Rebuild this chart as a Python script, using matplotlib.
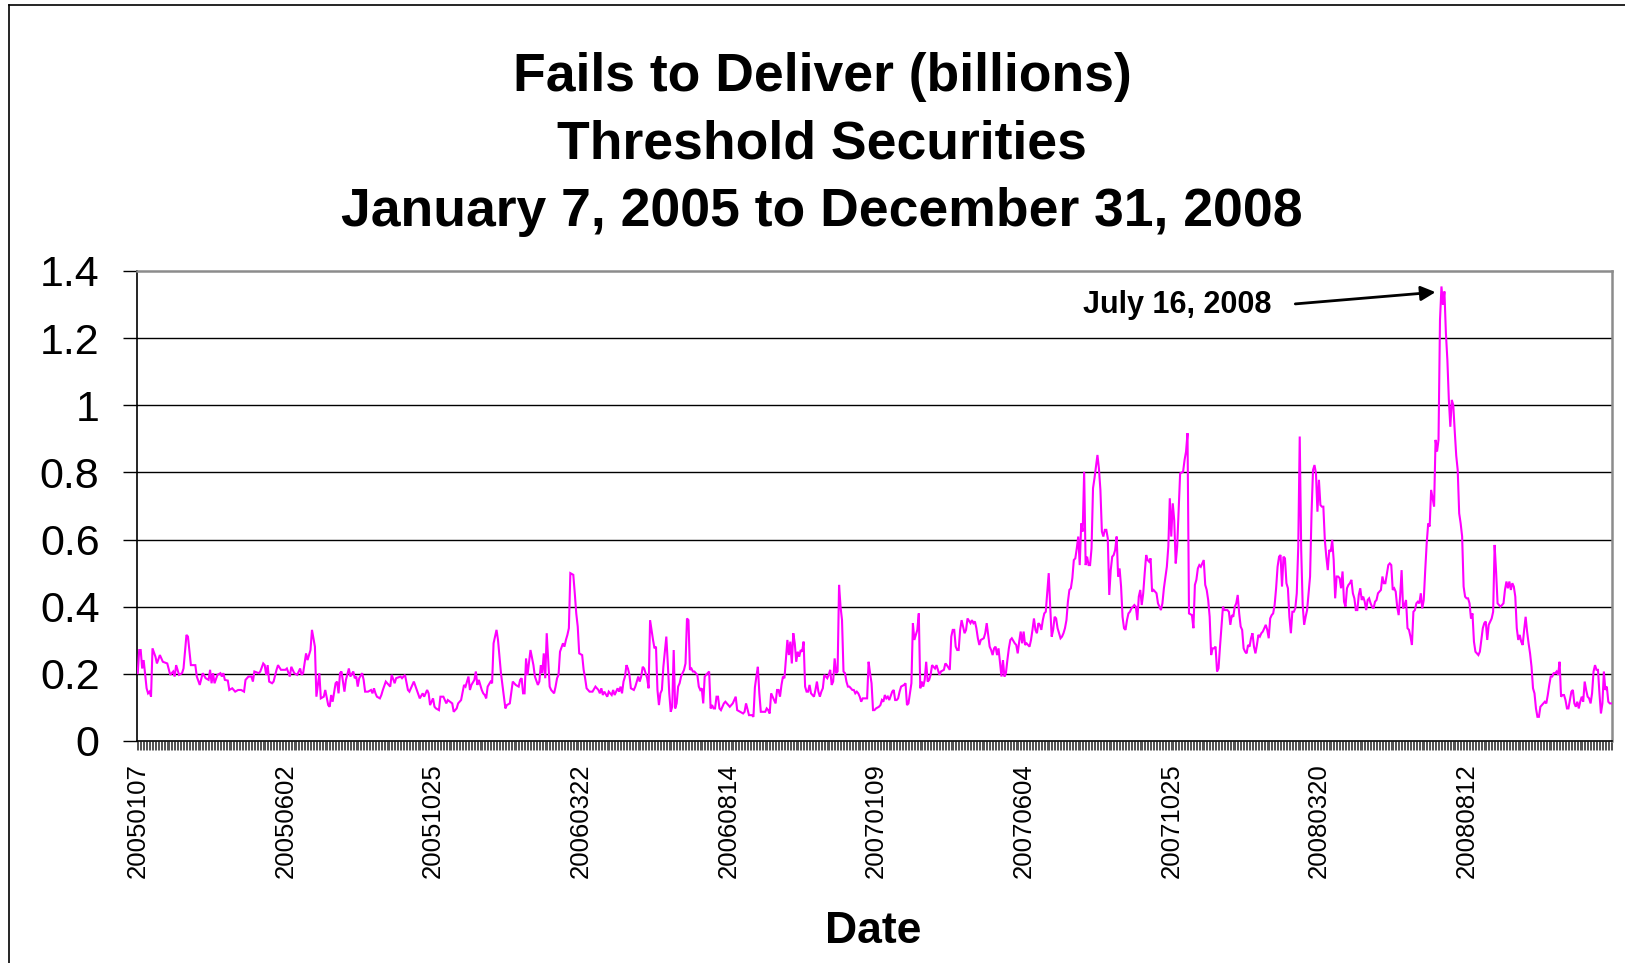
import matplotlib
matplotlib.use("Agg")
import matplotlib.pyplot as plt
from matplotlib.lines import Line2D
import numpy as np

plt.rcParams['font.family'] = ['Liberation Sans', 'DejaVu Sans']

# ---------------- data ----------------
title_lines = ["Fails to Deliver (billions)",
               "Threshold Securities",
               "January 7, 2005 to December 31, 2008"]
x_label = "Date"
peak_label = "July 16, 2008"

n_days = 999  # trading days, Jan 7 2005 .. Dec 31 2008
tick_days = [0, 100, 200, 300, 400, 500, 600, 700, 800, 900]
tick_labels = ["20050107", "20050602", "20051025", "20060322", "20060814",
               "20070109", "20070604", "20071025", "20080320", "20080812"]
y_ticks = [0, 0.2, 0.4, 0.6, 0.8, 1.0, 1.2, 1.4]
y_ticklabels = ["0", "0.2", "0.4", "0.6", "0.8", "1", "1.2", "1.4"]

# trading-day number and fails to deliver (billions)
day = [0, 1, 2, 3, 4, 6, 7, 8, 9, 10, 12, 13, 15, 17, 20, 22, 24, 25, 26, 28, 30, 31, 33, 34, 36, 39, 40, 42, 44, 46, 48, 49, 50, 51, 52, 54, 56, 57, 58, 59, 61, 62, 64, 66, 68, 70, 72, 73, 75, 77, 78, 79, 82, 83, 85, 86, 87, 88, 89, 91, 92, 94, 95, 97, 100, 101, 103, 104, 106, 108, 110, 111, 112, 114, 115, 117, 118, 120, 121, 123, 124, 126, 127, 129, 130, 131, 132, 134, 135, 136, 137, 138, 140, 141, 143, 144, 146, 147, 148, 149, 150, 152, 153, 154, 156, 158, 159, 160, 161, 162, 164,
       165, 166, 168, 170, 171, 172, 174, 175, 178, 179, 181, 183, 184, 187, 189, 191, 193, 194, 196, 197, 198, 200, 201, 202, 204, 205, 207, 209, 210, 213, 214, 216, 217, 219, 221, 222, 224, 225, 226, 228, 229, 230, 231, 233, 234, 235, 236, 237, 239, 240, 241, 243, 244, 245, 246, 248, 249, 250, 252, 254, 256, 258, 259, 260, 261, 262, 263, 264, 266, 268, 269, 271, 272, 273, 274, 275, 276, 277, 278, 279, 280, 282, 283, 284, 285, 286, 288, 289, 290, 291, 292, 293, 295, 296, 297, 298, 299, 301, 302, 303, 304, 306, 308, 310, 311, 312, 313, 314, 315, 316, 318, 319, 320, 321, 322, 323, 325, 326, 327, 328, 329, 330, 331, 332, 333,
       334, 336, 337, 338, 339, 340, 341, 342, 343, 345, 346, 347, 349, 350, 351, 352, 353, 354, 355, 356, 358, 359, 360, 361, 362, 363, 364, 365, 366, 367, 368, 370, 371, 372, 373, 374, 375, 376, 377, 379, 380, 381, 382, 383, 384, 386, 387, 388, 389, 390, 391, 392, 393, 394, 395, 397, 398, 399, 401, 403, 405, 406, 408, 410, 411, 412, 414, 416, 417, 418, 419, 420, 421, 422, 425, 426, 427, 428, 429, 430, 432, 433, 434, 435, 436, 437, 438, 440, 441, 442, 443, 444, 445, 446, 447, 448, 449, 450, 451, 452, 453, 454, 455, 456, 458, 459, 460, 461, 462, 463, 464, 465, 467, 468, 469, 470, 471, 472, 473, 474, 475, 476, 477, 478, 479, 480, 481, 482, 484, 485, 486, 487, 488, 489, 490, 491, 493, 494, 495, 496, 497, 498, 499, 500, 502, 503,
       504, 505, 506, 507, 508, 509, 511, 512, 513, 514, 515, 516, 517, 519, 520, 521, 522, 523, 524, 525, 526, 528, 529, 530, 531, 532, 533, 534, 535, 536, 537, 538, 540, 541, 542, 543, 544, 546, 547, 548, 550, 551, 552, 553, 554, 555, 556, 557, 558, 559, 560, 561, 562, 564, 565, 566, 567, 568, 569, 570, 571, 573, 574, 575, 576, 577, 578, 579, 580, 581, 582, 583, 585, 586, 587, 588, 589, 590, 591, 592, 594, 595, 596, 597, 598, 599, 600, 601, 602, 604, 605, 606, 607, 608, 609, 610, 611, 612, 613, 614, 615, 617, 618, 619, 620, 621, 622, 623, 625, 626, 627, 628, 629, 630, 631, 632, 633, 634, 635, 636, 637, 638, 639, 640, 641, 642, 643, 644, 645, 646, 647, 648, 649, 650, 651, 652, 653, 654, 655, 656, 657, 658, 659, 660, 661, 662, 663, 664, 665, 666, 667, 668, 669, 670, 671, 672,
       673, 675, 676, 677, 678, 679, 680, 681, 682, 683, 684, 685, 686, 687, 688, 689, 690, 691, 693, 694, 695, 697, 698, 699, 700, 701, 702, 703, 704, 705, 706, 708, 709, 710, 711, 712, 714, 715, 716, 717, 718, 719, 720, 722, 723, 724, 725, 726, 727, 728, 729, 730, 731, 732, 733, 734, 735, 736, 738, 739, 740, 741, 742, 743, 744, 745, 746, 747, 748, 749, 750, 751, 752, 753, 754, 755, 756, 757, 758, 759, 760, 761, 762, 764, 765, 766, 767, 768, 769, 770, 771, 772, 773, 774, 775, 776, 777, 778, 779, 780, 781, 782, 783, 784, 785, 786, 787, 788, 789, 790, 791, 792, 793, 794, 795, 796, 797, 798, 799, 800, 801, 802, 803, 804, 805, 806, 807, 808, 809, 810, 811, 812, 813, 814, 815, 816, 817, 818, 819, 820, 821, 822, 823, 824, 825, 826, 827, 828, 829, 830, 831, 832, 833, 834, 835, 836, 837, 838, 839, 840, 841,
       842, 843, 844, 845, 847, 848, 849, 850, 851, 852, 853, 854, 855, 856, 857, 858, 859, 860, 861, 862, 863, 864, 865, 866, 867, 868, 869, 870, 871, 872, 873, 874, 875, 876, 877, 878, 879, 880, 881, 882, 883, 884, 885, 886, 887, 888, 889, 890, 891, 892, 893, 894, 895, 896, 897, 898, 899, 900, 901, 902, 903, 904, 905, 906, 908, 909, 910, 911, 912, 913, 914, 915, 917, 918, 919, 920, 921, 922, 923, 924, 925, 926, 927, 928, 929, 930, 931, 932, 933, 934, 935, 936, 937, 938, 939, 940, 941, 942, 943, 944, 945, 946, 947, 948, 949, 950, 951, 952, 953, 954, 955, 956, 957, 958, 959, 960, 961, 962, 963, 964, 965, 966, 967, 968, 969, 970, 971, 972, 973, 974, 975, 976, 977, 978, 979, 980, 981, 982, 983, 984, 985, 986, 987, 988, 989, 990, 991, 992, 993, 994, 995, 996, 997, 998]

fails = [0.202, 0.271, 0.271, 0.216, 0.241, 0.157, 0.142, 0.147, 0.132, 0.276, 0.251, 0.231, 0.256, 0.236, 0.231, 0.197, 0.207, 0.192, 0.226, 0.197, 0.202, 0.216, 0.316, 0.311, 0.226, 0.226, 0.192, 0.167, 0.202, 0.187, 0.182, 0.212, 0.172, 0.202, 0.172, 0.197, 0.202, 0.192, 0.202, 0.182, 0.180, 0.152, 0.157, 0.147, 0.152, 0.152, 0.147, 0.182, 0.192, 0.192, 0.177, 0.207, 0.202, 0.207, 0.231, 0.226, 0.197, 0.226, 0.177, 0.172, 0.177, 0.212, 0.226, 0.212, 0.212, 0.216, 0.192, 0.221, 0.202, 0.197, 0.216, 0.197, 0.202, 0.261, 0.241, 0.271, 0.331, 0.281, 0.132, 0.202, 0.127, 0.132, 0.152, 0.107, 0.102, 0.137, 0.117, 0.172, 0.177, 0.142, 0.202, 0.207, 0.147, 0.182, 0.216, 0.192, 0.207, 0.187, 0.192, 0.162, 0.187, 0.202, 0.182, 0.147, 0.147, 0.152, 0.142, 0.157, 0.142, 0.132, 0.127,
         0.137, 0.152, 0.177, 0.167, 0.162, 0.197, 0.172, 0.187, 0.192, 0.187, 0.197, 0.152, 0.147, 0.177, 0.152, 0.127, 0.142, 0.132, 0.152, 0.142, 0.107, 0.127, 0.102, 0.097, 0.092, 0.132, 0.132, 0.112, 0.122, 0.112, 0.087, 0.097, 0.112, 0.122, 0.167, 0.162, 0.192, 0.152, 0.167, 0.182, 0.207, 0.167, 0.182, 0.152, 0.142, 0.137, 0.127, 0.162, 0.177, 0.172, 0.291, 0.331, 0.301, 0.251, 0.202, 0.132, 0.097, 0.107, 0.112, 0.177, 0.167, 0.162, 0.182, 0.187, 0.142, 0.142, 0.246, 0.197, 0.271, 0.226, 0.192, 0.167, 0.177, 0.226, 0.202, 0.261, 0.187, 0.321, 0.241, 0.162, 0.152, 0.142, 0.162, 0.187, 0.197, 0.266, 0.291, 0.281, 0.301, 0.316, 0.336, 0.500, 0.495, 0.440, 0.380, 0.341, 0.261, 0.256, 0.212, 0.187, 0.157, 0.147, 0.147, 0.162, 0.157, 0.152, 0.142, 0.157, 0.137, 0.147, 0.132, 0.147, 0.142, 0.137, 0.152, 0.137, 0.157, 0.147, 0.162, 0.142, 0.177, 0.192, 0.226, 0.216, 0.197,
         0.157, 0.152, 0.162, 0.177, 0.192, 0.177, 0.192, 0.221, 0.216, 0.187, 0.157, 0.360, 0.301, 0.276, 0.281, 0.152, 0.107, 0.142, 0.152, 0.221, 0.311, 0.231, 0.142, 0.087, 0.102, 0.271, 0.097, 0.112, 0.162, 0.172, 0.192, 0.212, 0.231, 0.365, 0.360, 0.212, 0.216, 0.207, 0.207, 0.197, 0.162, 0.152, 0.157, 0.112, 0.192, 0.202, 0.207, 0.097, 0.107, 0.097, 0.097, 0.132, 0.132, 0.097, 0.092, 0.112, 0.117, 0.112, 0.102, 0.112, 0.132, 0.092, 0.087, 0.082, 0.087, 0.112, 0.077, 0.077, 0.072, 0.160, 0.192, 0.221, 0.142, 0.087, 0.087, 0.097, 0.092, 0.082, 0.142, 0.132, 0.112, 0.152, 0.152, 0.132, 0.167, 0.192, 0.187, 0.301, 0.256, 0.296, 0.231, 0.321, 0.291, 0.236, 0.266, 0.251, 0.271, 0.266, 0.296, 0.162, 0.147, 0.147, 0.167, 0.142, 0.132, 0.152, 0.177, 0.147, 0.132, 0.147, 0.157, 0.197, 0.187, 0.197, 0.212, 0.167, 0.177, 0.246, 0.202, 0.207, 0.465, 0.400, 0.360, 0.207, 0.202, 0.177, 0.162, 0.162, 0.152, 0.152, 0.142, 0.147, 0.142, 0.132, 0.117, 0.127, 0.127, 0.127, 0.236, 0.202, 0.172, 0.092, 0.092, 0.097, 0.102, 0.107,
         0.122, 0.117, 0.137, 0.127, 0.132, 0.122, 0.147, 0.152, 0.122, 0.122, 0.127, 0.147, 0.162, 0.167, 0.172, 0.107, 0.112, 0.142, 0.172, 0.351, 0.301, 0.331, 0.380, 0.157, 0.177, 0.162, 0.182, 0.236, 0.177, 0.182, 0.197, 0.226, 0.216, 0.226, 0.212, 0.197, 0.207, 0.212, 0.231, 0.226, 0.212, 0.311, 0.331, 0.331, 0.281, 0.271, 0.271, 0.331, 0.360, 0.341, 0.321, 0.331, 0.365, 0.351, 0.360, 0.351, 0.356, 0.336, 0.306, 0.286, 0.301, 0.306, 0.321, 0.351, 0.316, 0.281, 0.271, 0.256, 0.276, 0.281, 0.256, 0.276, 0.192, 0.241, 0.192, 0.202, 0.241, 0.276, 0.301, 0.306, 0.291, 0.286, 0.261, 0.296, 0.326, 0.291, 0.326, 0.286, 0.291, 0.281, 0.301, 0.331, 0.365, 0.331, 0.321, 0.351, 0.346, 0.331, 0.360, 0.380, 0.385, 0.500, 0.400, 0.311, 0.331, 0.370, 0.365, 0.336, 0.306, 0.311, 0.321, 0.336, 0.360, 0.415, 0.450, 0.455, 0.485, 0.539, 0.544, 0.574, 0.609, 0.524, 0.648, 0.624, 0.802, 0.524, 0.549, 0.524, 0.524, 0.574, 0.753, 0.783, 0.817, 0.852, 0.812, 0.748, 0.624, 0.609, 0.629, 0.629, 0.604, 0.435, 0.509, 0.549, 0.554, 0.569, 0.609, 0.490, 0.514, 0.460, 0.370, 0.336, 0.331, 0.360, 0.380, 0.385,
         0.395, 0.405, 0.400, 0.360, 0.430, 0.450, 0.405, 0.440, 0.500, 0.554, 0.539, 0.534, 0.544, 0.445, 0.450, 0.445, 0.440, 0.410, 0.390, 0.410, 0.455, 0.519, 0.579, 0.723, 0.609, 0.708, 0.658, 0.529, 0.579, 0.688, 0.797, 0.802, 0.837, 0.862, 0.917, 0.380, 0.375, 0.336, 0.465, 0.480, 0.514, 0.524, 0.519, 0.539, 0.465, 0.450, 0.420, 0.370, 0.256, 0.276, 0.276, 0.281, 0.207, 0.216, 0.281, 0.341, 0.400, 0.390, 0.390, 0.385, 0.346, 0.375, 0.370, 0.400, 0.410, 0.435, 0.380, 0.341, 0.331, 0.276, 0.266, 0.261, 0.286, 0.281, 0.306, 0.321, 0.281, 0.261, 0.286, 0.316, 0.311, 0.321, 0.326, 0.346, 0.331, 0.306, 0.365, 0.375, 0.380, 0.405, 0.455, 0.519, 0.549, 0.554, 0.460, 0.549, 0.544, 0.470, 0.455, 0.370, 0.321, 0.385, 0.385, 0.395, 0.440, 0.579, 0.907, 0.569, 0.405, 0.346, 0.370, 0.390, 0.440, 0.490, 0.678, 0.807, 0.822, 0.797, 0.683, 0.778, 0.703, 0.698, 0.698, 0.599, 0.549, 0.509, 0.569, 0.564, 0.599, 0.539, 0.425, 0.490, 0.490, 0.485, 0.455, 0.505, 0.415, 0.400, 0.455, 0.465, 0.470, 0.480, 0.440, 0.425, 0.390, 0.390, 0.435, 0.455, 0.420, 0.430, 0.415, 0.390, 0.420, 0.425, 0.410, 0.400, 0.395, 0.415, 0.420, 0.440, 0.445,
         0.450, 0.490, 0.470, 0.470, 0.524, 0.529, 0.524, 0.450, 0.455, 0.445, 0.400, 0.375, 0.430, 0.509, 0.395, 0.405, 0.420, 0.336, 0.331, 0.311, 0.286, 0.385, 0.390, 0.410, 0.415, 0.410, 0.440, 0.395, 0.420, 0.509, 0.589, 0.648, 0.639, 0.748, 0.723, 0.698, 0.897, 0.862, 0.897, 1.254, 1.354, 1.299, 1.339, 1.215, 1.135, 1.016, 0.936, 1.016, 1.000, 0.922, 0.850, 0.807, 0.678, 0.648, 0.609, 0.460, 0.430, 0.425, 0.425, 0.410, 0.365, 0.380, 0.296, 0.266, 0.256, 0.266, 0.301, 0.336, 0.351, 0.356, 0.301, 0.346, 0.365, 0.385, 0.584, 0.504, 0.410, 0.405, 0.400, 0.405, 0.410, 0.450, 0.475, 0.455, 0.475, 0.450, 0.470, 0.460, 0.430, 0.336, 0.301, 0.316, 0.296, 0.286, 0.331, 0.370, 0.326, 0.291, 0.261, 0.221, 0.157, 0.142, 0.097, 0.072, 0.072, 0.102, 0.107, 0.112, 0.117, 0.112, 0.137, 0.167, 0.192, 0.192, 0.202, 0.202, 0.207, 0.197, 0.236, 0.132, 0.137, 0.137, 0.122, 0.097, 0.097, 0.122, 0.147, 0.152, 0.112, 0.102, 0.117, 0.097, 0.117, 0.132, 0.117, 0.177, 0.152, 0.132, 0.127, 0.112, 0.142, 0.207, 0.226, 0.212, 0.212, 0.142, 0.082, 0.112, 0.207, 0.152, 0.162, 0.117, 0.112, 0.112]

# ---------------- figure ----------------
W, H = 1625, 963
fig = plt.figure(figsize=(W / 100, H / 100), dpi=100)
fig.patch.set_facecolor('white')

# outer frame (left and top edges visible)
fig.add_artist(Line2D([9 / W, 9 / W], [0, 1 - 5 / H], transform=fig.transFigure,
                      color='black', lw=1.2))
fig.add_artist(Line2D([9 / W, 1], [1 - 5 / H, 1 - 5 / H], transform=fig.transFigure,
                      color='black', lw=1.2))

ax = fig.add_axes([137 / W, 1 - 741 / H, 1475 / W, 470 / H])
ax.set_facecolor('white')

for yv in y_ticks[1:-1]:
    ax.axhline(yv, color='black', lw=1.0, zorder=1)

ax.plot(day, fails, color='#FF00FF', lw=1.5, zorder=3, solid_joinstyle='miter')

ax.set_xlim(-0.5, n_days - 0.5)
ax.set_ylim(0, 1.4)

ax.set_yticks(y_ticks)
ax.set_yticklabels(y_ticklabels)
ax.tick_params(axis='y', direction='out', length=10, width=1, labelsize=31, pad=17)
for lbl in ax.get_yticklabels():
    lbl.set_verticalalignment('center_baseline')

ax.set_xticks(tick_days)
ax.set_xticklabels(tick_labels, rotation=90, fontsize=18.5)
ax.set_xticks(np.arange(-0.5, n_days, 1.0), minor=True)
ax.tick_params(axis='x', which='major', direction='out', length=0, pad=16)
ax.tick_params(axis='x', which='minor', direction='out', length=6.5, width=0.55,
               color='#222222')

for s in ['top', 'right']:
    ax.spines[s].set_color('#8c8c8c')
    ax.spines[s].set_linewidth(1.8)
for s in ['left', 'bottom']:
    ax.spines[s].set_color('black')
    ax.spines[s].set_linewidth(1.2)

# titles
baselines = [91, 158.5, 226]
for txt, b in zip(title_lines, baselines):
    fig.text(822 / W, 1 - b / H, txt, ha='center', va='baseline',
             fontsize=38.5, fontweight='bold')

fig.text(873 / W, 1 - 943 / H, x_label, ha='center', va='baseline',
         fontsize=32, fontweight='bold')

# peak annotation
ipk = int(np.argmax(fails))
ax.annotate('', xy=(day[ipk] - 4, fails[ipk] - 0.017), xytext=(784, 1.302),
            arrowprops=dict(arrowstyle='-|>', color='black', lw=2.0,
                            mutation_scale=22, shrinkA=0, shrinkB=0),
            zorder=5)
ax.text(768, 1.298, peak_label, ha='right', va='center', fontsize=22,
        fontweight='bold', zorder=5)

fig.savefig('out.png', dpi=100, facecolor='white')
